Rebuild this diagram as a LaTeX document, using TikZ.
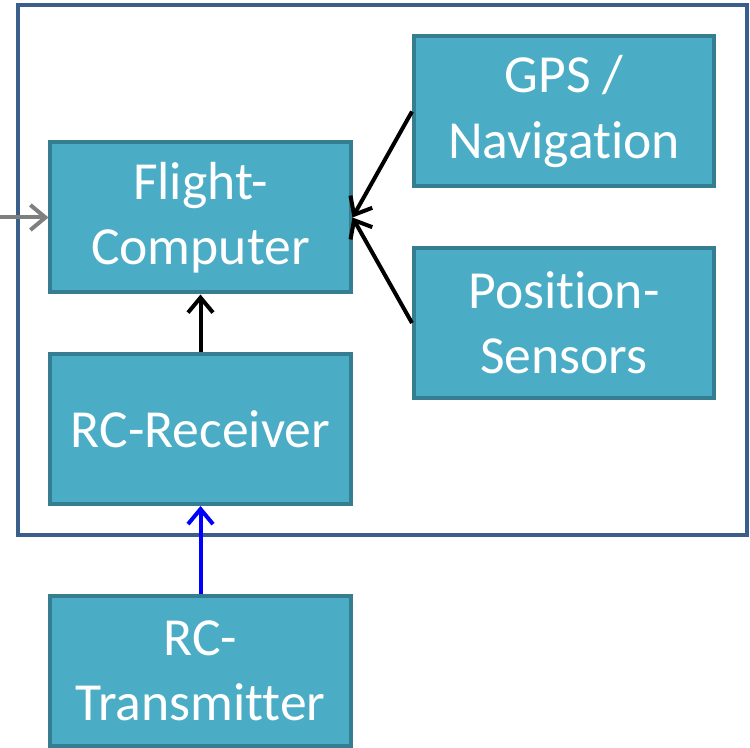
\documentclass[tikz,border=0pt]{standalone}
\usepackage{fontspec}
\setmainfont[Ligatures=NoCommon]{Carlito}
\usetikzlibrary{arrows.meta}
\definecolor{boxfill}{HTML}{4BACC6}
\definecolor{boxline}{HTML}{357D91}
\definecolor{frameline}{HTML}{3A5F8B}
\definecolor{feedgray}{HTML}{7F7F7F}
\tikzset{
  unit/.style={draw=boxline,fill=boxfill,line width=0.08cm,text=white,
    minimum width=6cm,minimum height=3cm,align=center,
    font=\fontsize{30.5}{37}\selectfont},
  link/.style={-{Straight Barb[length=0.3cm,width=0.5cm]},line width=0.08cm}
}
\begin{document}
\begin{tikzpicture}
\useasboundingbox (0,0) rectangle (15,14.94);
\draw [line width=0.08cm,color=frameline] (0.36,4.24) rectangle (14.94,14.84);
\node [unit] (flight) at (4.01,10.59) {Flight-\\Computer};
\node [unit] (gps) at (11.28,12.71) {GPS /\\Navigation};
\node [unit] (sensors) at (11.28,8.48) {Position-\\Sensors};
\node [unit] (receiver) at (4.01,6.36) {RC-Receiver};
\node [unit] (transmitter) at (4.01,1.52) {RC-\\Transmitter};
\coordinate (feed) at (0,10.59);
\draw [link,color=feedgray] (feed) -- (flight.west);
\draw [link] (gps.west) -- (flight.east);
\draw [link] (sensors.west) -- (flight.east);
\draw [link] (receiver.north) -- (flight.south);
\draw [link,color=blue] (transmitter.north) -- (receiver.south);
\end{tikzpicture}
\end{document}
